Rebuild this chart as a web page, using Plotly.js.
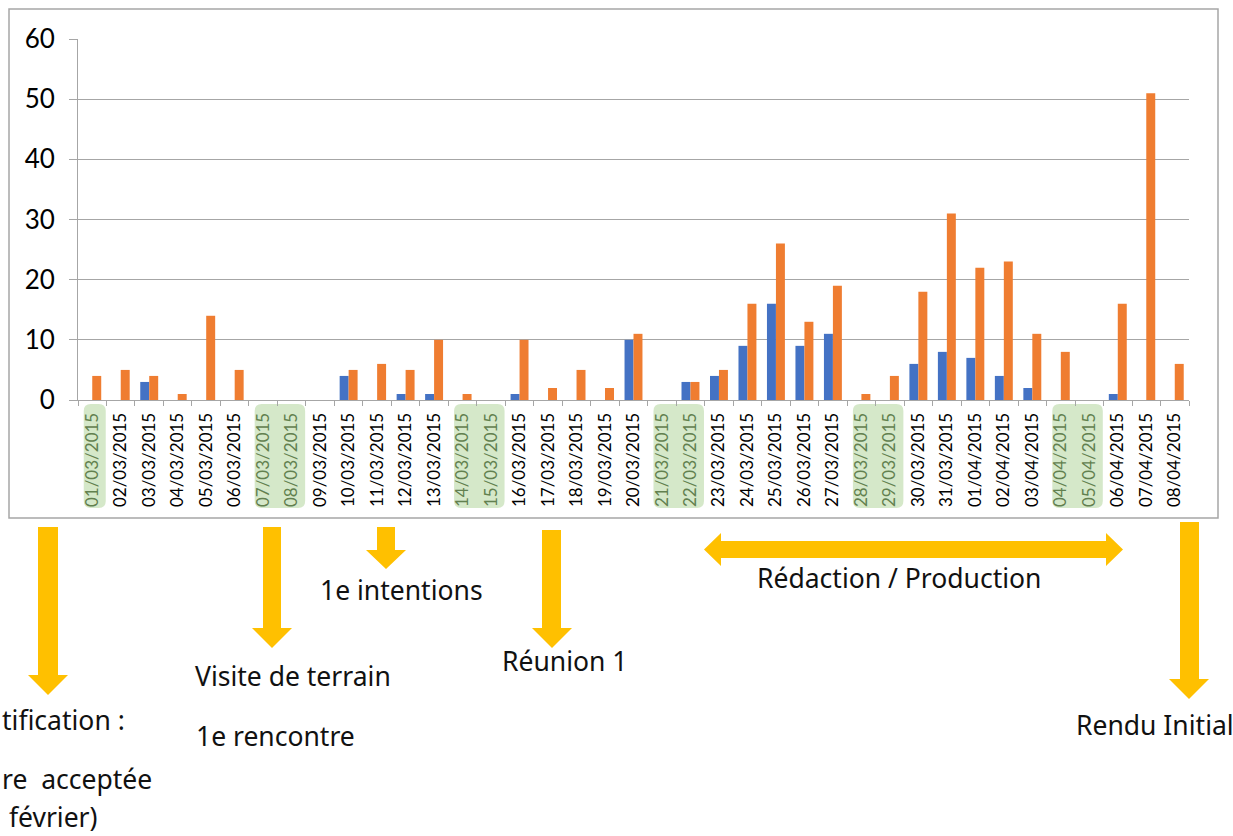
<!DOCTYPE html>
<html>
<head>
<meta charset="utf-8">
<script src="https://cdn.plot.ly/plotly-3.0.1.min.js"></script>
<style>html,body{margin:0;padding:0;background:#fff;}#chart{width:1233px;height:836px;}</style>
</head>
<body>
<div id="chart"></div>
<script>
// ---- data ----
const dates = ['01/03/2015','02/03/2015','03/03/2015','04/03/2015','05/03/2015','06/03/2015','07/03/2015','08/03/2015','09/03/2015','10/03/2015',
  '11/03/2015','12/03/2015','13/03/2015','14/03/2015','15/03/2015','16/03/2015','17/03/2015','18/03/2015','19/03/2015','20/03/2015',
  '21/03/2015','22/03/2015','23/03/2015','24/03/2015','25/03/2015','26/03/2015','27/03/2015','28/03/2015','29/03/2015','30/03/2015',
  '31/03/2015','01/04/2015','02/04/2015','03/04/2015','04/04/2015','05/04/2015','06/04/2015','07/04/2015','08/04/2015'];
const blueValues = [0,0,3,0,0,0,0,0,0,4, 0,1,1,0,0,1,0,0,0,10, 0,3,4,9,16,9,11,0,0,6, 8,7,4,2,0,0,1,0,0];
const orangeValues = [4,5,4,1,14,5,0,0,0,5, 6,5,10,1,0,10,2,5,2,11, 0,3,5,16,26,13,19,1,4,18, 31,22,23,11,8,0,16,51,6];
const weekendGroups = [['01/03/2015'],['07/03/2015','08/03/2015'],['14/03/2015','15/03/2015'],['21/03/2015','22/03/2015'],
  ['28/03/2015','29/03/2015'],['04/04/2015','05/04/2015']];
const yTicks = [0,10,20,30,40,50,60];
const notes = [
  {text:'tification :', x:0, y:720},
  {text:'re\u00a0 acceptée', x:0, y:779},
  {text:'\u00a0février)', x:0, y:817},
  {text:'Visite de terrain', x:193, y:676},
  {text:'1e rencontre', x:194, y:736},
  {text:'1e intentions', x:318, y:590},
  {text:'Réunion 1', x:500, y:661},
  {text:'Rédaction / Production', x:755, y:578},
  {text:'Rendu Initial', x:1074, y:725}
];

// ---- geometry helpers (pixel -> paper) ----
const W = 1233, H = 836, L = 78, R = 1189, T = 39, B = 400;
const px = x => (x - L) / (R - L);
const py = y => (B - y) / (B - T);
const P = (x, y) => px(x) + ',' + py(y);

const weekendFlat = weekendGroups.flat();
const tickText = dates.map(d => weekendFlat.includes(d) ? '<span style="color:#62804f">' + d + '</span>' : d);

const shapes = [];
// chart frame
shapes.push({type:'rect', xref:'paper', yref:'paper', x0:px(9), x1:px(1218), y0:py(518), y1:py(9),
  line:{color:'#a6a6a6', width:1.5}, fillcolor:'rgba(0,0,0,0)', layer:'below'});
// weekend label backgrounds (rounded)
const n = dates.length;
weekendGroups.forEach(g => {
  const i0 = dates.indexOf(g[0]), i1 = dates.indexOf(g[g.length - 1]);
  const xa = L + (i0 + 0.5) * (R - L) / n - 8.5, xb = L + (i1 + 0.5) * (R - L) / n + 13.5;
  const ya = 404, yb = 508, r = 7;
  const path = 'M' + P(xa + r, ya) + ' L' + P(xb - r, ya) + ' Q' + P(xb, ya) + ' ' + P(xb, ya + r) +
    ' L' + P(xb, yb - r) + ' Q' + P(xb, yb) + ' ' + P(xb - r, yb) + ' L' + P(xa + r, yb) +
    ' Q' + P(xa, yb) + ' ' + P(xa, yb - r) + ' L' + P(xa, ya + r) + ' Q' + P(xa, ya) + ' ' + P(xa + r, ya) + ' Z';
  shapes.push({type:'path', xref:'paper', yref:'paper', path:path, fillcolor:'#d5e8c9', line:{width:0}, layer:'below'});
});
// down arrows
function downArrow(sl, sr, top, headTop, tip, hl, hr) {
  const cx = (hl + hr) / 2;
  return {type:'path', xref:'paper', yref:'paper', fillcolor:'#ffc000', line:{width:0},
    path:'M' + P(sl, top) + ' L' + P(sr, top) + ' L' + P(sr, headTop) + ' L' + P(hr, headTop) + ' L' + P(cx, tip) +
      ' L' + P(hl, headTop) + ' L' + P(sl, headTop) + ' Z'};
}
shapes.push(downArrow(38, 58, 527, 675, 695, 28, 68));
shapes.push(downArrow(263, 281, 527, 628, 648, 252, 292));
shapes.push(downArrow(377, 395, 527, 550, 569, 366, 406));
shapes.push(downArrow(542, 561, 530, 628, 648, 532, 572));
shapes.push(downArrow(1180, 1199, 522, 679, 699, 1169, 1209));
// double horizontal arrow
(function(){
  const yt = 541, yb = 558, ht = 533, hb = 566, ym = 549.5, lt = 704, lb = 721, rb = 1106, rt = 1123;
  shapes.push({type:'path', xref:'paper', yref:'paper', fillcolor:'#ffc000', line:{width:0},
    path:'M' + P(lt, ym) + ' L' + P(lb, ht) + ' L' + P(lb, yt) + ' L' + P(rb, yt) + ' L' + P(rb, ht) + ' L' + P(rt, ym) +
      ' L' + P(rb, hb) + ' L' + P(rb, yb) + ' L' + P(lb, yb) + ' L' + P(lb, hb) + ' Z'});
})();

const annotations = notes.map(a => ({
  text:a.text, xref:'paper', yref:'paper', x:px(a.x), y:py(a.y), xanchor:'left', yanchor:'middle',
  showarrow:false, font:{family:'"Noto Sans", "Open Sans", sans-serif', size:26.5, color:'#111'}
}));

const traces = [
  {type:'bar', x:dates, y:blueValues, name:'Série 1', marker:{color:'#4472c4'}, hoverinfo:'x+y'},
  {type:'bar', x:dates, y:orangeValues, name:'Série 2', marker:{color:'#ef7d31'}, hoverinfo:'x+y'}
];

const layout = {
  width:W, height:H, autosize:false,
  margin:{l:L, r:W - R, t:T, b:H - B, pad:0},
  paper_bgcolor:'#fff', plot_bgcolor:'#fff',
  showlegend:false,
  barmode:'group', bargap:0.37, bargroupgap:0,
  font:{family:'Lato, "Liberation Sans", sans-serif', color:'#000'},
  xaxis:{type:'category', tickvals:dates, ticktext:tickText, tickangle:-90,
    tickfont:{size:17, family:'Lato, sans-serif', color:'#000'},
    ticks:'outside', ticklen:5, tickcolor:'#a6a6a6', tickwidth:1, tickson:'boundaries', ticklabelstandoff:5,
    showline:true, linecolor:'#a6a6a6', linewidth:1, showgrid:false, zeroline:false,
    range:[-0.5, n - 0.5], fixedrange:true},
  yaxis:{range:[0,60], tickvals:yTicks, ticktext:yTicks.map(String),
    tickfont:{size:26, family:'Lato, sans-serif', color:'#000'},
    ticks:'outside', ticklen:8, tickcolor:'#a6a6a6', tickwidth:1, ticklabelstandoff:9,
    showgrid:true, gridcolor:'#a6a6a6', gridwidth:1,
    showline:true, linecolor:'#a6a6a6', linewidth:1, zeroline:false, fixedrange:true},
  shapes:shapes,
  annotations:annotations
};

Plotly.newPlot('chart', traces, layout, {displayModeBar:false, staticPlot:true});
</script>
</body>
</html>
